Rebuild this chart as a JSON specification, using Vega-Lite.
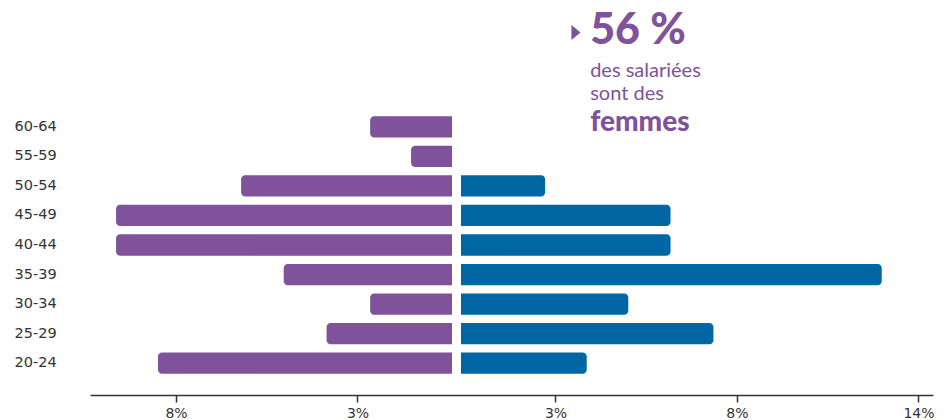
{
  "$schema": "https://vega.github.io/schema/vega-lite/v6.json",
  "width": 843,
  "height": 266,
  "autosize": {"type": "none"},
  "padding": {"left": 90, "top": 112, "right": 12, "bottom": 42},
  "config": {"view": {"stroke": null}, "font": "DejaVu Sans"},
  "datasets": {
    "pyramide": [
      {"age": "60-64", "sexe": "Femmes", "part": -2.48},
      {"age": "55-59", "sexe": "Femmes", "part": -1.24},
      {"age": "50-54", "sexe": "Femmes", "part": -6.39},
      {"age": "45-49", "sexe": "Femmes", "part": -10.18},
      {"age": "40-44", "sexe": "Femmes", "part": -10.18},
      {"age": "35-39", "sexe": "Femmes", "part": -5.1},
      {"age": "30-34", "sexe": "Femmes", "part": -2.48},
      {"age": "25-29", "sexe": "Femmes", "part": -3.8},
      {"age": "20-24", "sexe": "Femmes", "part": -8.91},
      {"age": "50-54", "sexe": "Hommes", "part": 2.55},
      {"age": "45-49", "sexe": "Hommes", "part": 6.35},
      {"age": "40-44", "sexe": "Hommes", "part": 6.35},
      {"age": "35-39", "sexe": "Hommes", "part": 12.75},
      {"age": "30-34", "sexe": "Hommes", "part": 5.07},
      {"age": "25-29", "sexe": "Hommes", "part": 7.65},
      {"age": "20-24", "sexe": "Hommes", "part": 3.81}
    ],
    "annotation": [
      {"texte": "56 %"}
    ]
  },
  "encoding": {
    "y": {
      "field": "age",
      "type": "nominal",
      "sort": ["60-64", "55-59", "50-54", "45-49", "40-44", "35-39", "30-34", "25-29", "20-24"],
      "scale": {"paddingInner": 0.28, "paddingOuter": 0.14},
      "axis": {
        "title": null,
        "domain": false,
        "ticks": false,
        "tickSize": 0,
        "labelAlign": "left",
        "labelBaseline": "middle",
        "labelPadding": 76,
        "labelFontSize": 14.5,
        "labelColor": "#333333"
      }
    }
  },
  "layer": [
    {
      "data": {"name": "pyramide"},
      "transform": [{"filter": "datum.sexe == 'Femmes'"}],
      "mark": {"type": "bar", "color": "#7f529b", "xOffset": -4.5, "x2Offset": -4.5, "cornerRadiusTopLeft": 4, "cornerRadiusBottomLeft": 4},
      "encoding": {
        "x": {
          "field": "part",
          "type": "quantitative",
          "scale": {"domain": [-11.106, 14.44], "nice": false, "zero": false},
          "axis": {
            "orient": "bottom",
            "title": null,
            "grid": false,
            "values": [-8.5, -3, 3, 8.5, 14],
            "labelExpr": "datum.value == 14 ? '14%' : (abs(datum.value) > 8 ? '8%' : '3%')",
            "offset": 17,
            "tickSize": 7,
            "tickWidth": 1.5,
            "tickColor": "#333333",
            "domainColor": "#333333",
            "domainWidth": 1.5,
            "labelFontSize": 14,
            "labelColor": "#333333",
            "labelPadding": 4,
            "labelFlush": false,
            "encode": {
              "ticks": {"update": {"y": {"value": -7}, "y2": {"value": 7}}}
            }
          }
        },
        "x2": {"datum": 0}
      }
    },
    {
      "data": {"name": "pyramide"},
      "transform": [{"filter": "datum.sexe == 'Hommes'"}],
      "mark": {"type": "bar", "color": "#0067a4", "xOffset": 4.5, "x2Offset": 4.5, "cornerRadiusTopRight": 4, "cornerRadiusBottomRight": 4},
      "encoding": {
        "x": {"field": "part", "type": "quantitative", "axis": null},
        "x2": {"datum": 0}
      }
    },
    {
      "data": {"name": "annotation"},
      "mark": {"type": "point", "shape": "M-0.6,-1L0.6,0L-0.6,1Z", "size": 225, "filled": true, "color": "#7f529b", "opacity": 1},
      "encoding": {
        "x": {"datum": 3.62, "type": "quantitative", "axis": null},
        "y": {"value": -79.5}
      }
    },
    {
      "data": {"name": "annotation"},
      "mark": {"type": "text", "align": "left", "baseline": "alphabetic", "font": "Lato", "fontWeight": 900, "fontSize": 43, "color": "#7f529b"},
      "encoding": {
        "text": {"field": "texte"},
        "x": {"datum": 4.05, "type": "quantitative", "axis": null},
        "y": {"value": -68}
      }
    },
    {
      "data": {"name": "annotation"},
      "mark": {"type": "text", "align": "left", "baseline": "alphabetic", "font": "Lato", "fontSize": 20, "lineHeight": 23, "color": "#7f529b"},
      "encoding": {
        "text": {"value": ["des salariées", "sont des"]},
        "x": {"datum": 4.05, "type": "quantitative", "axis": null},
        "y": {"value": -35}
      }
    },
    {
      "data": {"name": "annotation"},
      "mark": {"type": "text", "align": "left", "baseline": "alphabetic", "font": "Lato", "fontWeight": 900, "fontSize": 28, "color": "#7f529b"},
      "encoding": {
        "text": {"value": "femmes"},
        "x": {"datum": 4.05, "type": "quantitative", "axis": null},
        "y": {"value": 19}
      }
    }
  ],
  "resolve": {"scale": {"x": "shared"}, "axis": {"x": "independent"}}
}
